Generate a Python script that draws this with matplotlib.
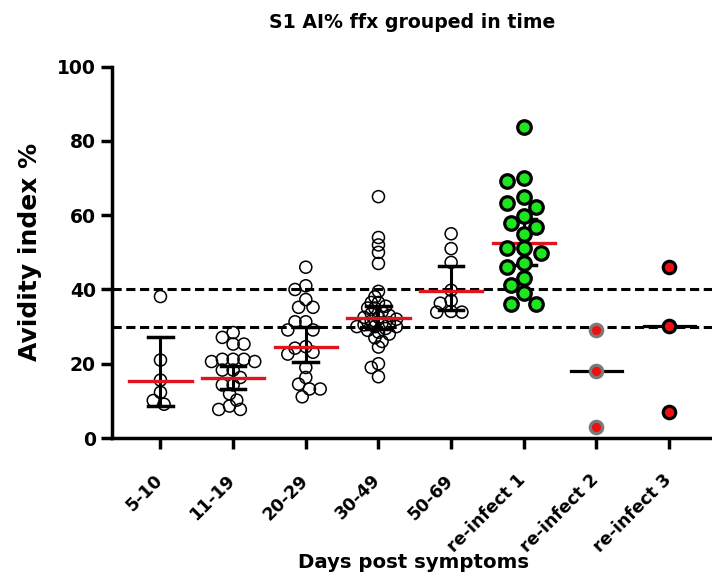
import numpy as np
import matplotlib
matplotlib.use("Agg")
import matplotlib.pyplot as plt
import matplotlib.transforms as mtransforms

plt.rcParams['font.family'] = ['DejaVu Sans']
plt.rcParams['font.weight'] = 'bold'

groups = ["5-10", "11-19", "20-29", "30-49", "50-69", "re-infect 1", "re-infect 2", "re-infect 3"]

g_5_10 = [38.1, 21.0, 15.6, 12.3, 10.1, 9.1]
g_11_19 = [28.4, 27.1, 25.3, 25.3, 21.2, 21.2, 21.2, 20.6, 20.6, 18.3, 18.3, 16.3,
           14.3, 14.3, 11.9, 10.2, 8.6, 7.7, 7.7]
g_20_29 = [46.0, 41.0, 40.0, 37.3, 35.2, 35.2, 31.3, 31.3, 29.1, 29.1, 24.6, 24.2,
           23.1, 22.6, 19.0, 16.3, 14.5, 13.2, 13.2, 11.1]
g_30_49 = [65.0, 54.0, 52.0, 50.0, 47.0, 39.5, 38.0, 36.5, 36.5, 35.5, 35.0, 35.0,
           34.0, 33.5, 33.0, 32.5, 32.5, 32.0, 31.5, 31.0, 31.0, 30.5, 30.0, 30.0,
           30.0, 29.5, 29.0, 28.5, 28.0, 27.0, 26.0, 24.5, 20.0, 19.0, 16.5]
g_50_69 = [55.0, 51.0, 47.3, 39.8, 37.0, 36.3, 34.1, 33.9, 33.9]
g_reinf1 = [83.7, 69.9, 69.3, 64.8, 63.4, 62.1, 59.8, 58.0, 56.9, 54.9, 51.1, 51.1,
            49.9, 47.0, 46.1, 43.0, 41.2, 39.0, 36.1, 36.1]
g_reinf2 = [29.0, 18.1, 3.0]
g_reinf3 = [46.0, 30.2, 7.1]

# centre line and error bar ends
centre = [15.4, 16.1, 24.6, 32.4, 39.7, 52.6, 18.1, 30.2]
err_lo = [8.6, 13.1, 20.4, 29.4, 34.5, 46.5, None, None]
err_hi = [27.3, 19.4, 30.0, 35.6, 46.3, 58.9, None, None]

thresholds = [40, 30]

all_groups = [g_5_10, g_11_19, g_20_29, g_30_49, g_50_69, g_reinf1, g_reinf2, g_reinf3]

fig = plt.figure(figsize=(7.12, 5.79), dpi=100)
ax = fig.add_axes([0.157, 0.2435, 0.843, 0.6413])
ax.set_xlim(-0.67, 7.59)
ax.set_ylim(0, 100)


def swarm(vals, xc, diam_px, frac):
    # greedy beeswarm in pixel space, points may overlap a bit
    pts = []
    xs = []
    for v in vals:
        px, py = ax.transData.transform((xc, v))
        best = None
        for k in range(0, 60):
            for sgn in ([1] if k == 0 else [-1, 1]):
                cx = px + sgn * k * diam_px * 0.3
                if all((cx - qx) ** 2 + (py - qy) ** 2 >= (diam_px * frac) ** 2 for qx, qy in pts):
                    best = cx
                    break
            if best is not None:
                break
        pts.append((best, py))
        xs.append(ax.transData.inverted().transform((best, py))[0])
    return np.array(xs)


for t in thresholds:
    ax.axhline(t, color='black', lw=2.2, ls=(0, (3, 1.5)), zorder=1)

for i in range(5):
    xs = swarm(all_groups[i], i, 12, 0.5 if i == 3 else 0.75)
    ax.scatter(xs, all_groups[i], s=75, facecolors='none', edgecolors='black',
               linewidths=1.1, zorder=3)

for i in range(6):
    z = 2 if i == 5 else 4
    ax.plot([i, i], [err_lo[i], err_hi[i]], color='black', lw=2.2, zorder=z)
    for e in (err_lo[i], err_hi[i]):
        ax.plot([i - 0.17, i + 0.17], [e, e], color='black', lw=2.5, zorder=z)
    ax.plot([i - 0.43, i + 0.43], [centre[i], centre[i]], color='#e0141e', lw=2.4,
            zorder=2 if i == 5 else 5)

xs = swarm(g_reinf1, 5, 14, 0.98)
ax.scatter(xs, g_reinf1, s=95, facecolors='#1ee61e', edgecolors='black', linewidths=2.3, zorder=6)

for i in (6, 7):
    ax.plot([i - 0.35, i + 0.35], [centre[i], centre[i]], color='black', lw=2.3, zorder=2)
ax.scatter([6] * len(g_reinf2), g_reinf2, s=80, facecolors='#ee1010', edgecolors='#7a7a7a',
           linewidths=2.3, zorder=6)
ax.scatter([7] * len(g_reinf3), g_reinf3, s=80, facecolors='#ee1010', edgecolors='black',
           linewidths=2.3, zorder=6)

for s in ('top', 'right'):
    ax.spines[s].set_visible(False)
for s in ('left', 'bottom'):
    ax.spines[s].set_linewidth(2.5)
ax.tick_params(width=2.5, length=8)
ax.tick_params(axis='x', pad=13)
ax.set_yticks([0, 20, 40, 60, 80, 100])
ax.set_yticklabels(["0", "20", "40", "60", "80", "100"], fontsize=13.5, fontweight='bold')
ax.set_xticks(range(len(groups)))
ax.set_xticklabels(groups, rotation=45, ha='right', va='top', rotation_mode='anchor',
                   fontsize=12.5, fontweight='bold')
shift = mtransforms.ScaledTranslation(-0.07, -0.04, fig.dpi_scale_trans)
for lab in ax.get_xticklabels():
    lab.set_transform(lab.get_transform() + shift)

fig.text(30 / 712, 1 - 252 / 579, "Avidity index %", fontsize=18, fontweight='bold',
         rotation=90, ha='center', va='center')
fig.text(413 / 712, 1 - 562 / 579, "Days post symptoms", fontsize=14.2, fontweight='bold',
         ha='center', va='center')
fig.text(412 / 712, 1 - 22 / 579, "S1 AI% ffx grouped in time", fontsize=13.6,
         fontweight='bold', ha='center', va='center')

fig.savefig("out.png", dpi=100)
